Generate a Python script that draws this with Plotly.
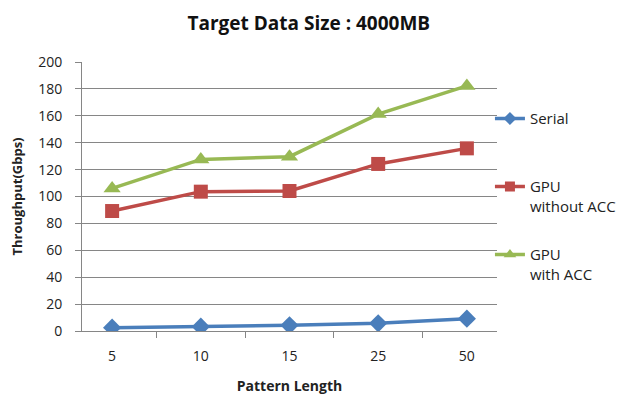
import plotly.graph_objects as go

categories = ["5", "10", "15", "25", "50"]
serial = [2.5, 3.2, 4.2, 5.7, 9.2]
gpu_without_acc = [89.2, 103.6, 104.1, 124.2, 135.8]
gpu_with_acc = [106, 127.6, 129.6, 161.3, 182.2]
y_ticks = list(range(0, 201, 20))

series = [
    ("Serial", "Serial<br>&nbsp;", serial, "#4A7EBB", "diamond", 14, 10),
    ("GPU without ACC", "GPU<br>without ACC", gpu_without_acc, "#BE4B48", "square", 14, 10),
    ("GPU with ACC", "GPU<br>with ACC", gpu_with_acc, "#98B954", "triangle-up", 15, 11),
]

fig = go.Figure()
for key, label, vals, color, sym, size, lsize in series:
    fig.add_trace(go.Scatter(x=categories, y=vals, name=key, mode="lines+markers",
                             line=dict(color=color, width=3.5),
                             marker=dict(symbol=sym, size=size, color=color),
                             legendgroup=key, showlegend=False))
    # legend entry (no data points) with smaller marker, as in the reference
    fig.add_trace(go.Scatter(x=[None], y=[None], name=label, mode="lines+markers",
                             line=dict(color=color, width=3.5),
                             marker=dict(symbol=sym, size=lsize, color=color),
                             legendgroup=key, showlegend=True))

font_family = "Open Sans, Liberation Sans, sans-serif"
fig.update_layout(
    width=619, height=387,
    margin=dict(l=74, r=130, t=54, b=64, autoexpand=False),
    paper_bgcolor="white", plot_bgcolor="white",
    font=dict(family=font_family, size=14, color="#222222"),
    title=dict(text="<b>Target Data Size : 4000MB</b>", x=0.486, xanchor="center",
               y=0.961, yanchor="middle", yref="container", font=dict(size=19, color="#111111"),
               automargin=False),
    showlegend=True,
    legend=dict(x=0.983, xanchor="left", y=0.85, yanchor="top", valign="top",
                bgcolor="rgba(0,0,0,0)", traceorder="grouped", tracegroupgap=26,
                font=dict(size=15, color="#222222")),
    xaxis=dict(type="category", showgrid=False, showline=True, linecolor="#868686", linewidth=1,
               ticks="outside", tickson="boundaries", ticklen=6, tickcolor="#868686",
               ticklabelstandoff=12, automargin=False,
               title=dict(text="<b>Pattern Length</b>", font=dict(size=14), standoff=17),
               tickfont=dict(size=14)),
    yaxis=dict(range=[0, 200], tickvals=y_ticks, showgrid=True, gridcolor="#868686", gridwidth=1,
               showline=True, linecolor="#868686", linewidth=1, zeroline=False,
               ticks="outside", ticklen=6, tickcolor="#868686", automargin=False,
               ticklabelstandoff=10,
               title=dict(text="<b>Throughput(Gbps)</b>", font=dict(size=13), standoff=13),
               tickfont=dict(size=14)),
)

fig.write_html("out.html")
